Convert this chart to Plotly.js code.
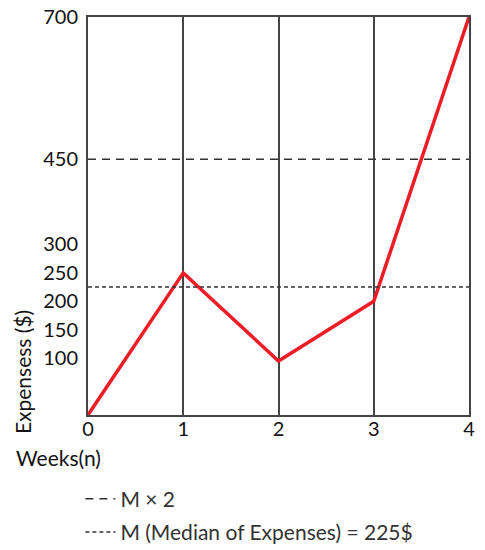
<!DOCTYPE html>
<html>
<head>
<meta charset="utf-8">
<script src="https://cdn.plot.ly/plotly-3.0.1.min.js"></script>
<style>body{margin:0;background:#fff}#chart{width:485px;height:550px}</style>
</head>
<body>
<div id="chart"></div>
<script>
// weekly expenses
var weeks = [0, 1, 2, 3, 4];
var expenses = [0, 250, 95, 200, 700];

// reference lines
var refX = [0, 4];
var medianY = [225, 225];
var doubleY = [450, 450];

var yTicks = [100, 150, 200, 250, 300, 450, 700];

var data = [
  {
    x: weeks, y: expenses, mode: 'lines', showlegend: false,
    line: {color: '#ee1c25', width: 3.5}
  },
  {
    x: refX, y: doubleY, mode: 'lines', name: 'M × 2', legendgroup: 'a',
    line: {color: '#333', width: 1.5, dash: '8px,6px'}
  },
  {
    x: refX, y: medianY, mode: 'lines', name: 'M (Median of Expenses) = 225$', legendgroup: 'b',
    line: {color: '#333', width: 1.5, dash: '4px,3px'}
  }
];

var layout = {
  width: 485, height: 550,
  margin: {l: 88, r: 16, t: 17, b: 135, autoexpand: false},
  font: {family: 'Lato, sans-serif', size: 20, color: '#111'},
  paper_bgcolor: '#fff', plot_bgcolor: '#fff',
  xaxis: {
    range: [0, 4], tickvals: weeks, showgrid: true, gridcolor: '#444', gridwidth: 1.5,
    zeroline: false, showline: true, mirror: true, linecolor: '#444', linewidth: 2,
    ticks: '', fixedrange: true, automargin: false, ticklabelstandoff: -5
  },
  yaxis: {
    range: [0, 700], tickvals: yTicks, showgrid: false, zeroline: false,
    showline: true, mirror: true, linecolor: '#444', linewidth: 2, ticks: '',
    ticklabelstandoff: 4, automargin: false
  },
  showlegend: true,
  legend: {
    x: -0.02, xanchor: 'left', yref: 'container', y: 0.13, yanchor: 'top',
    font: {size: 21, color: '#333'}, tracegroupgap: 3, bgcolor: 'rgba(0,0,0,0)'
  },
  annotations: [
    {
      text: 'Expensess ($)', xref: 'paper', yref: 'paper', x: -0.173, y: 0.108,
      xanchor: 'center', yanchor: 'middle', textangle: -90, showarrow: false,
      font: {size: 21}
    },
    {
      text: 'Weeks(n)', xref: 'paper', yref: 'paper', x: -0.194, y: -0.108,
      xanchor: 'left', yanchor: 'middle', showarrow: false, font: {size: 21}
    }
  ]
};

Plotly.newPlot('chart', data, layout, {displayModeBar: false});
</script>
</body>
</html>
